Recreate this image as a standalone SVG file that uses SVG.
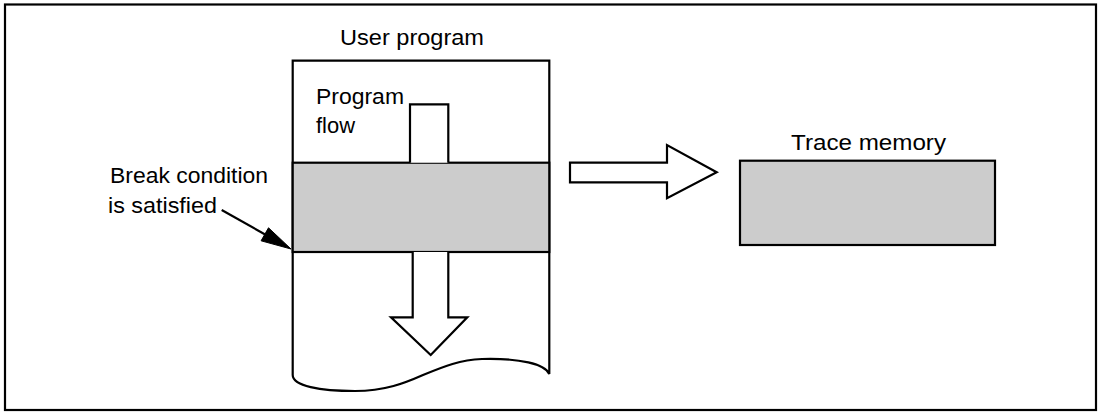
<svg xmlns="http://www.w3.org/2000/svg" width="1101" height="412" viewBox="0 0 1101 412">
  <style>
    .ln { fill: none; stroke: #000; stroke-width: 2.2; stroke-linejoin: miter; }
    .wt { fill: #fff; stroke: #000; stroke-width: 2.2; }
    .gr { fill: #cccccc; stroke: #000; stroke-width: 2.2; }
    .tx { font-family: "Liberation Sans", Arial, Helvetica, sans-serif; font-size: 22px; fill: #000; }
  </style>
  <rect x="0" y="0" width="1101" height="412" fill="#fff"/>
  <rect id="frame" x="5" y="4.5" width="1091" height="405.5" class="ln"/>

  <g id="user-program">
    <path class="wt" d="M292.7,375 L292.7,60.7 L549.3,60.7 L549.3,374 C545,364 520,358 482,359 C460,360 445,366 423,375 C405,383 385,391 355,391 C320,391 292.7,386 292.7,375 Z"/>
    <text class="tx" x="340" y="45" textLength="144" lengthAdjust="spacingAndGlyphs">User program</text>
  </g>

  <g id="break-band">
    <rect class="gr" x="292.7" y="162.7" width="256.6" height="89.3"/>
  </g>

  <g id="program-flow">
    <path class="wt" d="M410,162.7 L410,104.3 L448.3,104.3 L448.3,162.7"/>
    <text class="tx" x="316" y="104" textLength="88" lengthAdjust="spacingAndGlyphs">Program</text>
    <text class="tx" x="316" y="133" textLength="39" lengthAdjust="spacingAndGlyphs">flow</text>
  </g>

  <g id="break-label">
    <text class="tx" x="110" y="183" textLength="158" lengthAdjust="spacingAndGlyphs">Break condition</text>
    <text class="tx" x="108" y="213" textLength="109" lengthAdjust="spacingAndGlyphs">is satisfied</text>
  </g>

  <g id="trace-memory">
    <rect class="gr" x="740" y="160.7" width="255" height="84.3"/>
    <text class="tx" x="791" y="149.5" textLength="155" lengthAdjust="spacingAndGlyphs">Trace memory</text>
  </g>

  <g id="connectors">
    <path class="wt" d="M412.7,252 L412.7,317.3 L391,317.3 L430.7,355 L467.3,317.3 L448.3,317.3 L448.3,252"/>
    <path class="wt" d="M570,162.7 L667,162.7 L667,145 L716.7,172.3 L667,198.3 L667,182.3 L570,182.3 Z"/>
    <line class="ln" x1="221.7" y1="210" x2="266" y2="235"/>
    <polygon points="291,249 261.1,240.8 268.5,227.8" fill="#000" stroke="#000" stroke-width="1"/>
  </g>
</svg>
